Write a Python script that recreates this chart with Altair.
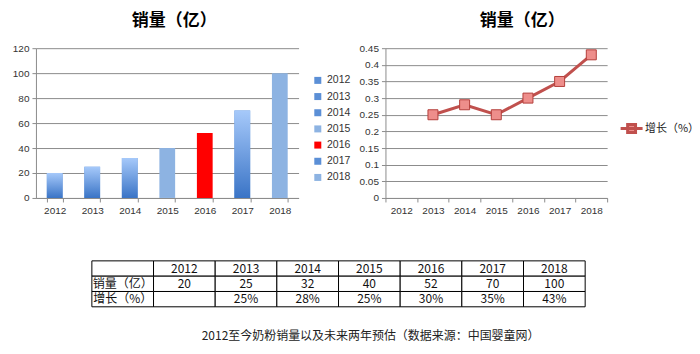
import altair as alt
import pandas as pd

years = ["2012", "2013", "2014", "2015", "2016", "2017", "2018"]
sales = [20, 25, 32, 40, 52, 70, 100]
growth = [None, 0.25, 0.28, 0.25, 0.30, 0.35, 0.43]
growth_text = ["", "25%", "28%", "25%", "30%", "35%", "43%"]
bar_colors = ["#5b8fd6", "#5b8fd6", "#5b8fd6", "#8db3e2", "#ff0000", "#5b8fd6", "#8db3e2"]
gradient_years = ["2012", "2013", "2014", "2017"]
sales_ticks = [0, 20, 40, 60, 80, 100, 120]
growth_ticks = [0, 0.05, 0.1, 0.15, 0.2, 0.25, 0.3, 0.35, 0.4, 0.45]
row_labels = ["", "销量（亿）", "增长（%）"]
series_name = "增长（%）"
chart_title = "销量（亿）"
caption = "2012至今奶粉销量以及未来两年预估（数据来源：中国婴童网）"

AX_FONT = "Liberation Sans"
CJK = "Noto Sans CJK SC"
GRID = "#8c8c8c"
LABEL = "#333333"


def y_axis(values, fmt, extent):
    return alt.Axis(title=None, values=values, format=fmt, grid=True, gridColor=GRID,
                    domainColor=GRID, tickColor=GRID, tickSize=4, labelFont=AX_FONT,
                    labelFontSize=10, labelColor=LABEL, labelPadding=3,
                    minExtent=extent, maxExtent=extent)


x_axis = alt.Axis(title=None, tickBand="extent", grid=False, labelAngle=0, domainColor=GRID,
                  tickColor=GRID, tickSize=4, labelFont=AX_FONT, labelFontSize=10,
                  labelColor=LABEL, labelPadding=4)


def title_of(dx):
    return alt.TitleParams(chart_title, font=CJK, fontSize=17, fontWeight="bold", color="black",
                           anchor="middle", dx=dx, offset=13)


# ---------- left: bar chart ----------
df_bar = pd.DataFrame({"year": years, "sales": sales})
xb = alt.X("year:N", sort=years,
           scale=alt.Scale(domain=years, paddingInner=0.58, paddingOuter=0.29), axis=x_axis)
yb = alt.Y("sales:Q", scale=alt.Scale(domain=[0, 120], nice=False),
           axis=y_axis(sales_ticks, "d", 36))

bars = alt.Chart(df_bar).mark_bar().encode(
    x=xb, y=yb,
    color=alt.Color("year:N", sort=years, scale=alt.Scale(domain=years, range=bar_colors),
                    legend=alt.Legend(title=None, orient="none", legendX=277, legendY=27,
                                      symbolType="square", symbolSize=49, symbolStrokeWidth=0,
                                      labelFont=AX_FONT, labelFontSize=10.5, labelColor=LABEL,
                                      rowPadding=5.2, labelOffset=4)),
)
grad = alt.LinearGradient(gradient="linear", x1=0, x2=0, y1=1, y2=0,
                          stops=[alt.GradientStop(color="#3a74c6", offset=0),
                                 alt.GradientStop(color="#a6c9fa", offset=1)])
grad_bars = alt.Chart(df_bar).transform_filter(
    alt.FieldOneOfPredicate(field="year", oneOf=gradient_years)
).mark_bar(color=grad).encode(x=xb, y=yb)

left = alt.layer(bars, grad_bars).properties(width=263, height=150, title=title_of(7))

# ---------- right: line chart ----------
df_line = pd.DataFrame({"year": years, "growth": growth, "series": [series_name] * len(years)})
xl = alt.X("year:N", sort=years,
           scale=alt.Scale(domain=years, paddingInner=0, paddingOuter=0), axis=x_axis)
yl = alt.Y("growth:Q", scale=alt.Scale(domain=[0, 0.45], nice=False),
           axis=y_axis(growth_ticks, ".2~f", 30))

line = alt.Chart(df_line).mark_line(color="#c0504d", strokeWidth=3).encode(x=xl, y=yl)
pts = alt.Chart(df_line).mark_square(size=100, stroke="#b43f3b", strokeWidth=1, opacity=1).encode(
    x=xl, y=yl,
    fill=alt.Fill("series:N", scale=alt.Scale(range=["#ee8e8b"]),
                  legend=alt.Legend(title=None, orient="none", legendX=584, legendY=68,
                                    symbolType="M-1,0H1M-0.36,-0.36H0.36V0.36H-0.36Z",
                                    symbolSize=484, symbolStrokeColor="#c0504d",
                                    symbolStrokeWidth=3, labelFont=CJK, labelFontSize=11,
                                    labelColor="#222222", labelOffset=1)),
)
right = alt.layer(line, pts).properties(width=222, height=150, title=title_of(26))

# ---------- table ----------
col_keys = ["label"] + years
row_keys = ["r0", "r1", "r2"]
table_rows = [[row_labels[0]] + years,
              [row_labels[1]] + [str(v) for v in sales],
              [row_labels[2]] + growth_text]
cells = []
for ri, row in enumerate(table_rows):
    for ci, txt in enumerate(row):
        cells.append({"row": row_keys[ri], "col": col_keys[ci], "text": txt})
df_tab = pd.DataFrame(cells)

tx = alt.X("col:N", sort=col_keys,
           scale=alt.Scale(domain=col_keys, range=[56, 550], paddingInner=0, paddingOuter=0),
           axis=None)
ty = alt.Y("row:N", sort=row_keys,
           scale=alt.Scale(domain=row_keys, paddingInner=0, paddingOuter=0), axis=None)
rects = alt.Chart(df_tab).mark_rect(fill="white", stroke="black", strokeWidth=1).encode(x=tx, y=ty)
texts = alt.Chart(df_tab).mark_text(font=CJK, fontSize=12, color="#111111",
                                    baseline="middle", align="center").encode(
    x=tx, y=ty, text="text:N")
table = alt.layer(rects, texts).properties(
    width=560, height=46,
    title=alt.TitleParams(caption, orient="bottom", anchor="start", dx=166, offset=24,
                          font=CJK, fontSize=12, fontWeight="normal", color="#222222"),
)

top = alt.hconcat(left, right, spacing=57)
chart = alt.vconcat(top, table, spacing=44).properties(
    padding={"left": 0, "top": 12, "right": 0, "bottom": 0},
    background="white",
).configure_view(strokeWidth=0)

chart.save("out.html", embed_options={"renderer": "svg", "actions": False})
